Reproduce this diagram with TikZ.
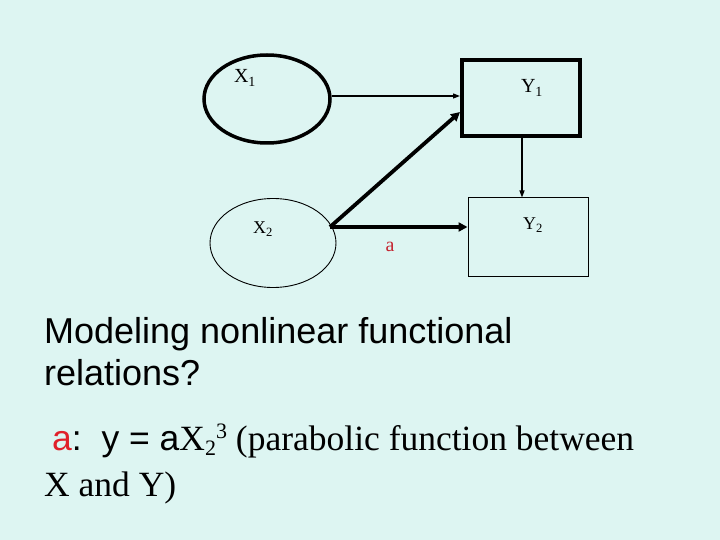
\documentclass[tikz,border=0pt]{standalone}
\usepackage{fontspec}
\setmainfont{Liberation Serif}
\newfontfamily\arialf{Liberation Sans}
\usetikzlibrary{shapes.geometric,arrows.meta}
\definecolor{bg}{RGB}{221,245,242}
\definecolor{redA}{RGB}{224,32,42}
\definecolor{redB}{RGB}{196,36,48}
\tikzset{
  thinarrow/.style={line width=1.2pt,-{Triangle[length=7pt,width=5pt]}},
  thickarrow/.style={line width=3.8pt,-{Triangle[length=9pt,width=9pt]}},
  small/.style={inner sep=0pt,font=\fontsize{20}{20}\selectfont},
  smaller/.style={inner sep=0pt,font=\fontsize{18}{18}\selectfont},
}
\begin{document}
\begin{tikzpicture}[x=1pt,y=-1pt]
\fill[bg] (0,0) rectangle (720,540);
\useasboundingbox (0,0) rectangle (720,540);
% nodes
\node[ellipse,draw,line width=3.5pt,minimum width=126pt,minimum height=88pt,inner sep=0pt] (X1) at (267,99) {};
\node[ellipse,draw,line width=0.9pt,minimum width=126pt,minimum height=89pt,inner sep=0pt] (X2) at (273,243) {};
\node[rectangle,draw,line width=4pt,minimum width=118pt,minimum height=76pt,inner sep=0pt] (Y1) at (521,98) {};
\node[rectangle,draw,line width=1pt,minimum width=120pt,minimum height=78pt,inner sep=0pt] (Y2) at (528,237) {};
% labels
\node[small] (lx1) at (245,78) {X\textsubscript{1}};
\node[small] (ly1) at (532,88) {Y\textsubscript{1}};
\node[smaller] (lx2) at (263,229) {X\textsubscript{2}};
\node[smaller] (ly2) at (533,225) {Y\textsubscript{2}};
\node[small,text=redB] (la) at (390,247) {a};
% connectors
\coordinate (s) at (330,227);
\coordinate (t1) at (X1.east |- 0,96);
\draw[thinarrow] (t1) -- (t1 -| Y1.west);
\coordinate (v) at (522,0);
\draw[thinarrow] (v |- Y1.south) -- (v |- Y2.north);
\draw[thickarrow] (s) -- (s -| Y2.west);
\draw[thickarrow] (s) -- (Y1.west |- 0,112);
% text
\node[anchor=base west,inner sep=0pt,font=\arialf\fontsize{36}{40}\selectfont] (t1a) at (44,343) {Modeling nonlinear functional};
\node[anchor=base west,inner sep=0pt,font=\arialf\fontsize{36}{40}\selectfont] (t1b) at (44,385) {relations?};
\node[anchor=base west,inner sep=0pt,font=\fontsize{35.5}{40}\selectfont] (t2a) at (52,450) {{\arialf\color{redA}a}{\arialf:\ \ y = a}X\raisebox{-5pt}{\fontsize{22}{22}\selectfont 2}\raisebox{12pt}{\fontsize{22}{22}\selectfont 3} (parabolic function between};
\node[anchor=base west,inner sep=0pt,font=\fontsize{35.5}{40}\selectfont] (t2b) at (44,496) {X and Y)};
\end{tikzpicture}
\end{document}
